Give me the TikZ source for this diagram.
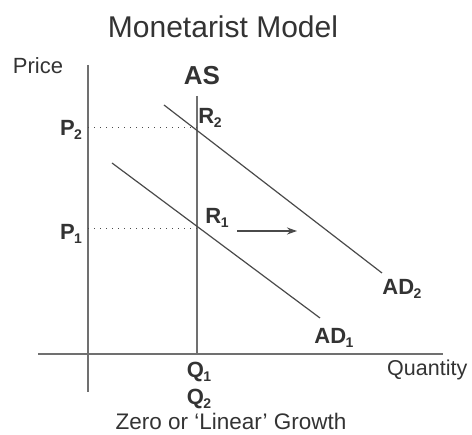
\documentclass[tikz,border=0pt]{standalone}
\usepackage{fontspec}
\setmainfont{Liberation Sans}
\usetikzlibrary{arrows.meta}
\definecolor{ink}{HTML}{333333}
\definecolor{axisgray}{HTML}{707070}
\definecolor{linegray}{HTML}{4A4A4A}
\newcommand{\sublab}[2]{#1\kern-0.5pt\raisebox{-4pt}{\fontsize{14}{14}\selectfont #2}}
\tikzset{
  txt/.style={inner sep=0pt, text=ink},
  lab/.style={inner sep=0pt, text=ink, font=\fontsize{22}{22}\selectfont\bfseries},
  axisline/.style={draw=axisgray, line width=1.8pt},
  curve/.style={draw=linegray, line width=1.2pt},
  guide/.style={draw=linegray, line width=1pt, dash pattern=on 1pt off 5pt},
}
\begin{document}
\begin{tikzpicture}[x=1pt,y=-1pt]
\useasboundingbox (0,0) rectangle (472,435);
% text
\node[txt, font=\fontsize{30}{30}\selectfont] (title) at (223,27) {Monetarist Model};
\node[txt, font=\fontsize{22}{22}\selectfont] (price) at (38,66) {Price};
\node[txt, font=\fontsize{26}{26}\selectfont\bfseries] (as) at (202,76) {AS};
\node[txt, font=\fontsize{21.5}{21.5}\selectfont, anchor=west] (qty) at (387,370) {Quantity};
\node[txt, font=\fontsize{22.5}{22.5}\selectfont] (zero) at (231,421) {Zero or ‘Linear’ Growth};
\node[lab] (p2) at (71,130) {\sublab{P}{2}};
\node[lab] (p1) at (71,234) {\sublab{P}{1}};
\node[lab] (r2) at (210,118) {\sublab{R}{2}};
\node[lab] (r1) at (217,218) {\sublab{R}{1}};
\node[lab] (ad2) at (402,289) {\sublab{AD}{2}};
\node[lab] (ad1) at (334,338) {\sublab{AD}{1}};
\node[lab] (q1) at (199,372) {\sublab{Q}{1}};
\node[lab] (q2) at (199,399) {\sublab{Q}{2}};
% coordinates
\coordinate (ytop) at (88,65);
\coordinate (ybot) at (88,392);
\coordinate (xl) at (38,354);
\coordinate (xr) at (443,354);
\coordinate (astop) at (197,96);
\coordinate (asbot) at (197,354);
\coordinate (ad2a) at (164,105);
\coordinate (ad2b) at (382,273);
\coordinate (ad1a) at (112,163);
\coordinate (ad1b) at (320,318);
\coordinate (p2l) at (88,128);
\coordinate (p2r) at (197,128);
\coordinate (p1l) at (88,229);
\coordinate (p1r) at (197,229);
\coordinate (arra) at (237,231);
\coordinate (arrb) at (297,231);
% lines
\draw[axisline] (ytop) -- (ybot);
\draw[axisline] (xl) -- (xr);
\draw[draw=axisgray, line width=1.4pt] (astop) -- (asbot);
\draw[curve] (ad2a) -- (ad2b);
\draw[curve] (ad1a) -- (ad1b);
\draw[guide] (p2l) -- (p2r);
\draw[guide] (p1l) -- (p1r);
\draw[curve, -{Stealth[length=10pt,width=7pt]}] (arra) -- (arrb);
\end{tikzpicture}
\end{document}
